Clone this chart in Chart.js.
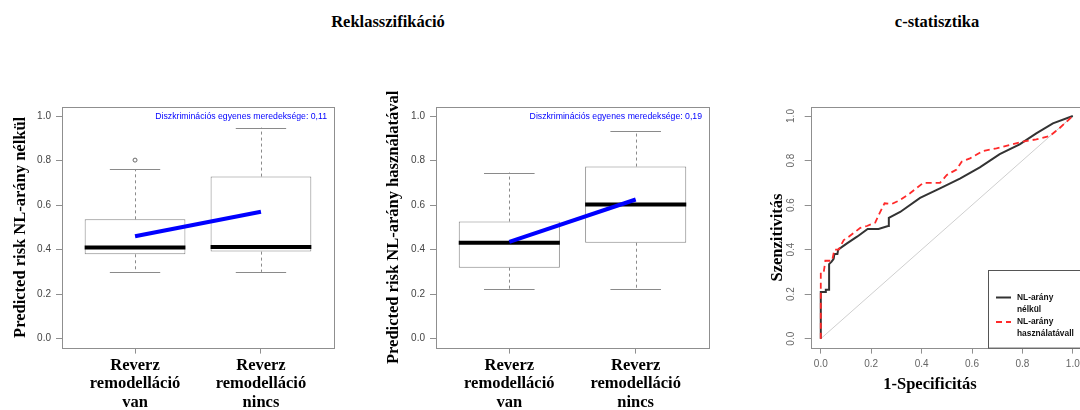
<!DOCTYPE html>
<html>
<head>
<meta charset="utf-8">
<script src="https://cdn.jsdelivr.net/npm/chart.js@4.4.1/dist/chart.umd.min.js"></script>
<style>
  html, body { margin: 0; padding: 0; background: #fff; width: 1080px; height: 410px; overflow: hidden; }
  canvas { position: absolute; left: 0; top: 0; }
  .title {
    position: absolute; top: 12px; transform: translateX(-50%);
    font: bold 16.5px "Liberation Serif", "Times New Roman", serif;
    line-height: 20px; color: #000; white-space: nowrap;
  }
</style>
</head>
<body>
<div class="title" style="left:388px">Reklasszifikáció</div>
<div class="title" style="left:937px">c-statisztika</div>
<canvas id="boxA" width="1090" height="410"></canvas>
<canvas id="boxB" width="1090" height="410"></canvas>
<canvas id="roc" width="1090" height="410"></canvas>
<script>
// ---- data ----
const categories = [["Reverz", "remodelláció", "van"], ["Reverz", "remodelláció", "nincs"]];
const yTickValues = [0, 0.2, 0.4, 0.6, 0.8, 1.0];
const rocTickValues = [0, 0.2, 0.4, 0.6, 0.8, 1.0];

// predicted risk without the NL ratio
const lowA = [0.300, 0.300];
const q1A = [0.379, 0.391];
const medA = [0.409, 0.412];
const q3A = [0.536, 0.728];
const highA = [0.762, 0.948];
const outA = [[0.802], []];
const meanA = [0.46, 0.57];

// predicted risk using the NL ratio
const lowB = [0.223, 0.223];
const q1B = [0.319, 0.431];
const medB = [0.431, 0.603];
const q3B = [0.526, 0.773];
const highB = [0.746, 0.933];
const outB = [[], []];
const meanB = [0.435, 0.625];

// ROC curves
const fprA = [0, 0, 0, 0.02, 0.02, 0.033, 0.033, 0.043, 0.051, 0.054, 0.066, 0.069, 0.104, 0.144, 0.186, 0.229, 0.267, 0.27, 0.315, 0.394, 0.473, 0.552, 0.631, 0.710, 0.789, 0.855, 0.921, 1];
const tprA = [0, 0.2, 0.21, 0.21, 0.22, 0.22, 0.335, 0.346, 0.358, 0.38, 0.38, 0.40, 0.428, 0.458, 0.493, 0.493, 0.506, 0.543, 0.569, 0.632, 0.675, 0.719, 0.769, 0.829, 0.873, 0.922, 0.967, 1];
const fprB = [0, 0, 0.012, 0.018, 0.045, 0.054, 0.071, 0.091, 0.111, 0.137, 0.157, 0.183, 0.216, 0.233, 0.253, 0.282, 0.315, 0.354, 0.407, 0.473, 0.50, 0.539, 0.559, 0.592, 0.644, 0.697, 0.75, 0.802, 0.855, 0.908, 0.947, 1];
const tprB = [0, 0.30, 0.30, 0.35, 0.35, 0.40, 0.40, 0.443, 0.458, 0.48, 0.498, 0.506, 0.521, 0.563, 0.608, 0.605, 0.623, 0.653, 0.70, 0.70, 0.735, 0.76, 0.795, 0.81, 0.843, 0.855, 0.87, 0.885, 0.895, 0.91, 0.945, 1];
const diagX = [0, 1];
const diagY = [0, 1];
const rocLabels = [["NL-arány", "nélkül"], ["NL-arány", "használatávall"]];

// ---- styling helpers ----
const SERIF = '"Liberation Serif", "Times New Roman", serif';
const SANS = '"Liberation Sans", Arial, sans-serif';
const AXIS_GRAY = '#8f8f8f';
const zip = (xs, ys) => xs.map((x, i) => ({ x, y: ys[i] }));
const fixedTicks = values => scale => { scale.ticks = values.map(v => ({ value: v })); };
const slopeText = m => 'Diszkriminációs egyenes meredeksége: ' + (m[1] - m[0]).toFixed(2).replace('.', ',');

// whiskers, medians, plot frame and slope caption for the box plots
const boxplotParts = {
  id: 'boxplotParts',
  beforeDatasetsDraw(chart, args, opts) {
    const { ctx, scales: { x, y } } = chart;
    ctx.save();
    ctx.strokeStyle = '#8a8a8a';
    ctx.lineWidth = 1;
    opts.low.forEach((lo, i) => {
      const c = i + 1;
      const px = Math.round(x.getPixelForValue(c)) + 0.5;
      ctx.setLineDash([3, 3]);
      ctx.beginPath();
      ctx.moveTo(px, y.getPixelForValue(opts.q3[i]));
      ctx.lineTo(px, y.getPixelForValue(opts.high[i]));
      ctx.moveTo(px, y.getPixelForValue(opts.q1[i]));
      ctx.lineTo(px, y.getPixelForValue(lo));
      ctx.stroke();
      ctx.setLineDash([]);
      ctx.beginPath();
      [opts.high[i], lo].forEach(v => {
        const py = Math.round(y.getPixelForValue(v)) + 0.5;
        ctx.moveTo(x.getPixelForValue(c - 0.2), py);
        ctx.lineTo(x.getPixelForValue(c + 0.2), py);
      });
      ctx.stroke();
    });
    ctx.restore();
  },
  afterDatasetDraw(chart, args, opts) {
    if (args.meta.type !== 'bar') return;
    const { ctx, scales: { x, y } } = chart;
    ctx.save();
    ctx.strokeStyle = '#000';
    ctx.lineWidth = 4;
    ctx.lineCap = 'butt';
    opts.med.forEach((m, i) => {
      const py = y.getPixelForValue(m);
      ctx.beginPath();
      ctx.moveTo(x.getPixelForValue(i + 1 - 0.4), py);
      ctx.lineTo(x.getPixelForValue(i + 1 + 0.4), py);
      ctx.stroke();
    });
    ctx.restore();
  },
  afterDraw(chart, args, opts) {
    const { ctx, chartArea: a } = chart;
    ctx.save();
    ctx.strokeStyle = AXIS_GRAY;
    ctx.lineWidth = 1;
    ctx.strokeRect(Math.round(a.left) + 0.5, Math.round(a.top) + 0.5, Math.round(a.right - a.left), Math.round(a.bottom - a.top));
    ctx.fillStyle = '#0000ff';
    ctx.font = '8.7px ' + SANS;
    ctx.textAlign = 'right';
    ctx.textBaseline = 'middle';
    ctx.fillText(opts.caption, a.right - 7, a.top + 10);
    ctx.restore();
  }
};

function boxChart(id, s, yTitle, padLeft, yWidth, padRight, titlePad) {
  return new Chart(document.getElementById(id), {
    type: 'bar',
    data: {
      datasets: [
        {
          type: 'line',
          data: s.mean.map((v, i) => ({ x: i + 1, y: v })),
          borderColor: '#0000ff', borderWidth: 4, pointRadius: 0, fill: false
        },
        {
          type: 'scatter',
          data: s.out.flatMap((arr, i) => arr.map(v => ({ x: i + 1, y: v }))),
          pointRadius: 2, pointStyle: 'circle', backgroundColor: 'rgba(0,0,0,0)',
          borderColor: '#666', borderWidth: 1
        },
        {
          type: 'bar',
          data: s.q1.map((v, i) => ({ x: i + 1, y: [v, s.q3[i]] })),
          backgroundColor: '#fff', borderColor: '#858585', borderWidth: 1,
          borderSkipped: false, categoryPercentage: 1, barPercentage: 0.8
        }
      ]
    },
    options: {
      responsive: false, animation: false, devicePixelRatio: 1, events: [],
      layout: { padding: { left: padLeft, top: 107.1, right: padRight, bottom: 0 } },
      plugins: {
        legend: { display: false }, tooltip: { enabled: false },
        boxplotParts: { low: s.low, q1: s.q1, med: s.med, q3: s.q3, high: s.high, caption: slopeText(s.mean) }
      },
      scales: {
        x: {
          type: 'linear', min: 0.42, max: 2.58, offset: false,
          afterBuildTicks: fixedTicks(categories.map((c, i) => i + 1)),
          afterFit: sc => { sc.height = 62.4; },
          grid: { drawOnChartArea: false, drawTicks: true, tickLength: 6, color: AXIS_GRAY, offset: false },
          border: { display: false },
          ticks: {
            callback: (v, i) => categories[i], autoSkip: false, maxRotation: 0, minRotation: 0,
            font: { family: SERIF, size: 16.5, weight: 'bold', lineHeight: 1.11 }, color: '#000', padding: 3
          }
        },
        y: {
          type: 'linear', min: -0.04, max: 1.04,
          afterBuildTicks: fixedTicks(yTickValues),
          afterFit: sc => { sc.width = yWidth; },
          grid: { drawOnChartArea: false, drawTicks: true, tickLength: 6, color: AXIS_GRAY },
          border: { display: false },
          ticks: { callback: v => Number(v).toFixed(1), autoSkip: false, font: { family: SANS, size: 10 }, color: '#444', padding: 5 },
          title: {
            display: true, text: yTitle, color: '#000',
            font: { family: SERIF, size: 16.5, weight: 'bold', lineHeight: 1.2 },
            padding: { top: titlePad, bottom: 0 }
          }
        }
      }
    },
    plugins: [boxplotParts]
  });
}

boxChart('boxA', { low: lowA, q1: q1A, med: medA, q3: q3A, high: highA, out: outA, mean: meanA },
  'Predicted risk NL-arány nélkül', 0, 62, 756, 10.4);
boxChart('boxB', { low: lowB, q1: q1B, med: medB, q3: q3B, high: highB, out: outB, mean: meanB },
  'Predicted risk NL-arány használatával', 370, 66, 381, 13.5);

// frame, axis titles and legend box for the ROC panel
const rocParts = {
  id: 'rocParts',
  afterDraw(chart) {
    const { ctx, chartArea: a } = chart;
    ctx.save();
    ctx.strokeStyle = AXIS_GRAY;
    ctx.lineWidth = 1;
    ctx.strokeRect(Math.round(a.left) + 0.5, Math.round(a.top) + 0.5, Math.round(a.right - a.left), Math.round(a.bottom - a.top));

    ctx.fillStyle = '#000';
    ctx.font = 'bold 16.5px ' + SERIF;
    ctx.textAlign = 'center';
    ctx.textBaseline = 'middle';
    ctx.fillText('1-Specificitás', 930, 385);
    ctx.save();
    ctx.translate(777.5, 237.5);
    ctx.rotate(-Math.PI / 2);
    ctx.fillText('Szenzitivitás', 0, 0);
    ctx.restore();

    // legend
    const lx = 988, ly = 270;
    ctx.fillStyle = '#fff';
    ctx.fillRect(lx, ly, a.right - lx, a.bottom - ly);
    ctx.strokeStyle = '#555';
    ctx.strokeRect(lx + 0.5, ly + 0.5, a.right - lx, a.bottom - ly);
    const items = [chart.data.datasets[1], chart.data.datasets[0]];
    const rows = [297.5, 322];
    ctx.font = 'bold 8.4px ' + SANS;
    ctx.textAlign = 'left';
    items.forEach((ds, k) => {
      ctx.strokeStyle = ds.borderColor;
      ctx.lineWidth = ds.borderWidth;
      ctx.setLineDash(ds.borderDash || []);
      ctx.beginPath();
      ctx.moveTo(996, rows[k]);
      ctx.lineTo(1011, rows[k]);
      ctx.stroke();
      ctx.setLineDash([]);
      ctx.fillStyle = '#111';
      ds.label.forEach((t, j) => ctx.fillText(t, 1017, rows[k] + j * 12));
    });
    ctx.restore();
  }
};

new Chart(document.getElementById('roc'), {
  type: 'scatter',
  data: {
    datasets: [
      { label: rocLabels[1], data: zip(fprB, tprB), showLine: true, borderColor: '#ff2a2a', borderWidth: 1.8, borderDash: [6, 4], pointRadius: 0 },
      { label: rocLabels[0], data: zip(fprA, tprA), showLine: true, borderColor: '#333', borderWidth: 2, pointRadius: 0 },
      { label: ['diag'], data: zip(diagX, diagY), showLine: true, borderColor: '#cfcfcf', borderWidth: 1, pointRadius: 0 }
    ]
  },
  options: {
    responsive: false, animation: false, devicePixelRatio: 1, events: [],
    layout: { padding: { left: 760, top: 107.1, right: 7.1, bottom: 0 } },
    plugins: { legend: { display: false }, tooltip: { enabled: false } },
    scales: {
      x: {
        type: 'linear', min: -0.04, max: 1.04,
        afterBuildTicks: fixedTicks(rocTickValues),
        afterFit: sc => { sc.height = 62.4; },
        grid: { drawOnChartArea: false, drawTicks: true, tickLength: 6, color: AXIS_GRAY },
        border: { display: false },
        ticks: { callback: v => Number(v).toFixed(1), autoSkip: false, maxRotation: 0, minRotation: 0, font: { family: SANS, size: 10 }, color: '#666', padding: 4.7 }
      },
      y: {
        type: 'linear', min: -0.04, max: 1.04,
        afterBuildTicks: fixedTicks(rocTickValues),
        afterFit: sc => { sc.width = 50.7; },
        grid: { drawOnChartArea: false, drawTicks: true, tickLength: 6, color: AXIS_GRAY },
        border: { display: false },
        ticks: { callback: v => Number(v).toFixed(1), autoSkip: false, minRotation: 90, maxRotation: 90, crossAlign: 'center', font: { family: SANS, size: 10 }, color: '#666', padding: 6 }
      }
    }
  },
  plugins: [rocParts]
});
</script>
</body>
</html>
